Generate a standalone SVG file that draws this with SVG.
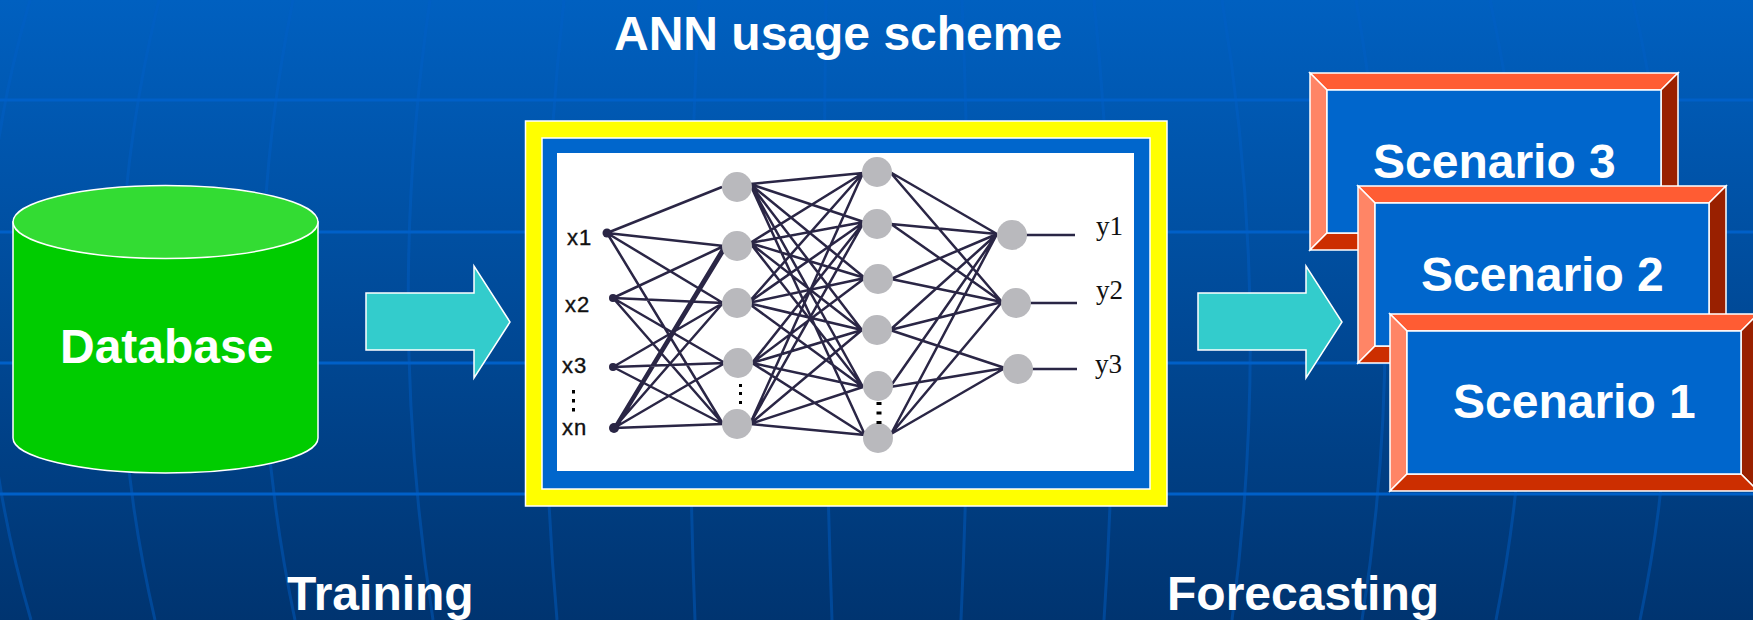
<svg xmlns="http://www.w3.org/2000/svg" width="1753" height="620" viewBox="0 0 1753 620">
<style>
.t{font-family:"Liberation Sans",Arial,sans-serif;font-weight:700;font-size:48px;fill:#fff}
.h{stroke:#0060c8;stroke-width:3;fill:none}
.v{stroke:#0060c8;stroke-width:3;fill:none;opacity:.45}
.w{stroke:#fff;stroke-width:1.5;stroke-linejoin:miter}
.e{stroke:#2a2545;stroke-width:2.500;fill:none}
.n{fill:#b9b9bd}
.il{font-family:"Liberation Sans",Arial,sans-serif;font-size:22px;fill:#111;stroke:#111;stroke-width:.4;letter-spacing:1px}
.ol{font-family:"Liberation Serif","Times New Roman",serif;font-size:27px;fill:#111}
.d{fill:#000}
</style>
<defs>
<linearGradient id="bg" x1="0" y1="0" x2="0" y2="1"><stop offset="0" stop-color="#0060c0"/><stop offset="1" stop-color="#003470"/></linearGradient>
<filter id="soft" x="-2%" y="-2%" width="104%" height="104%"><feGaussianBlur stdDeviation="0.45"/></filter>
<g id="frame">
<polygon class="w" points="0,0 368,0 351,17 17,17" fill="#ff5c33"/>
<polygon class="w" points="0,0 17,17 17,160 0,177" fill="#ff8566"/>
<polygon class="w" points="368,0 368,177 351,160 351,17" fill="#992000"/>
<polygon class="w" points="0,177 17,160 351,160 368,177" fill="#cc2e00"/>
<rect class="w" x="17" y="17" width="334" height="143" fill="#0066cc"/>
</g>
<polygon id="arrow" class="w" fill="#33cccc" points="0,27 108,27 108,0 144,56 108,112 108,84 0,84"/>
</defs>
<rect width="1753" height="620" fill="url(#bg)"/>
<g id="background">
<path class="h" d="M0 100H1753M0 232H1753M0 363H1753M0 494H1753"/>
<path class="v" d="M30 0Q-60 310 31 620M159 0Q83 310 155 620M293 0Q230 310 295 620M430 0Q385 310 433 620M564 0Q530 310 557 620M699 0Q683 310 695 620M826 0Q821 310 832 620M962 0Q975 310 961 620M1094 0Q1125 310 1104 620M1222 0Q1273 310 1232 620M1356 0Q1411 310 1362 620M1490 0Q1557 310 1496 620M1633 0Q1704 310 1640 620"/>
</g>
<text id="title" class="t" x="614" y="50">ANN usage scheme</text>
<g id="database">
<path class="w" fill="#00cc00" d="M13 222V438A152.500 35 0 0 0 318 438V222Z"/>
<ellipse class="w" cx="165.500" cy="222" rx="152.500" ry="36.500" fill="#33dc33"/>
<text class="t" x="60" y="363">Database</text>
</g>
<g id="connectors">
<use id="arrow-training" href="#arrow" transform="translate(366,266)"/>
<use id="arrow-forecasting" href="#arrow" transform="translate(1198,266)"/>
</g>
<g id="ann">
<rect class="w" x="525.500" y="121" width="641.500" height="385" fill="#ffff00"/>
<rect class="w" x="542" y="138" width="608" height="351" fill="#0066cc"/>
<rect x="557" y="153" width="577" height="318" fill="#fff"/>
<g id="ann-edges" filter="url(#soft)">
<path class="e" d="M607 233L722 187M607 233L724 246M607 233L723 303M607 233L723 424M613 298L724 246M613 298L723 303M613 298L725 363M613 298L723 424M613 367L723 303M613 367L725 363M613 367L723 424M614 428L724 246M616 428L727 246M614 428L723 303M614 428L725 363M614 428L723 424"/>
<path class="e" d="M750 184L863 173M750 184L864 222M750 184L865 278M750 184L862 330M750 184L863 387M750 184L865 435M750 243L863 173M750 243L864 222M750 243L865 278M750 243L862 330M750 243L863 387M748 303L863 173M748 303L864 222M748 303L865 278M748 303L862 330M748 303L863 387M752 363L864 222M752 363L865 278M752 363L862 330M752 363L863 387M752 363L865 435M750 424L863 173M750 424L864 222M750 424L862 330M750 424L863 387M750 424L865 435"/>
<path class="e" d="M890 172L997 234M890 172L1002 302M891 224L997 234M891 224L1002 302M891 279L997 234M891 279L1002 302M890 330L997 234M890 330L1002 302M890 330L1005 368M890 387L997 234M890 387L1005 368M891 434L997 234M891 434L1002 302M891 434L1005 368"/>
<path class="e" d="M1012 235H1075M1016 303H1077M1018 369H1077"/>
<g fill="#2a2545"><circle cx="607" cy="233" r="4.500"/><circle cx="613" cy="298" r="4"/><circle cx="613" cy="367" r="4"/><circle cx="614" cy="428" r="5"/></g>
<g class="n">
<circle cx="737" cy="187" r="15"/><circle cx="737" cy="246" r="15"/><circle cx="737" cy="303" r="15"/><circle cx="738" cy="363" r="15"/><circle cx="737" cy="424" r="15"/>
<circle cx="877" cy="172" r="15"/><circle cx="877" cy="224" r="15"/><circle cx="878" cy="279" r="15"/><circle cx="877" cy="330" r="15"/><circle cx="878" cy="386" r="15"/><circle cx="878" cy="438" r="15"/>
<circle cx="1012" cy="235" r="15"/><circle cx="1016" cy="303" r="15"/><circle cx="1018" cy="369" r="15"/>
</g>
</g>
<g class="d">
<rect x="572" y="390" width="3" height="3.500"/><rect x="572" y="399" width="3" height="3.500"/><rect x="572" y="408" width="3" height="3.500"/>
<rect x="739" y="384" width="3" height="3"/><rect x="739" y="392" width="3" height="3"/><rect x="739" y="401" width="3" height="3"/>
<rect x="876.500" y="402" width="5" height="3"/><rect x="876.500" y="411.500" width="5" height="3"/><rect x="876.500" y="421" width="5" height="3"/>
</g>
<text class="il" x="567" y="245">x1</text>
<text class="il" x="565" y="312">x2</text>
<text class="il" x="562" y="373">x3</text>
<text class="il" x="562" y="435">xn</text>
<text class="ol" x="1096" y="235">y1</text>
<text class="ol" x="1096" y="299">y2</text>
<text class="ol" x="1095" y="373">y3</text>
</g>
<g id="scenario-3">
<use href="#frame" transform="translate(1310,73)"/>
<text class="t" x="1373" y="178">Scenario 3</text>
</g>
<g id="scenario-2">
<use href="#frame" transform="translate(1358,186)"/>
<text class="t" x="1421" y="291">Scenario 2</text>
</g>
<g id="scenario-1">
<use href="#frame" transform="translate(1390,314)"/>
<text class="t" x="1453" y="418">Scenario 1</text>
</g>
<text id="training" class="t" x="287" y="610">Training</text>
<text id="forecasting" class="t" x="1167" y="610">Forecasting</text>
</svg>
